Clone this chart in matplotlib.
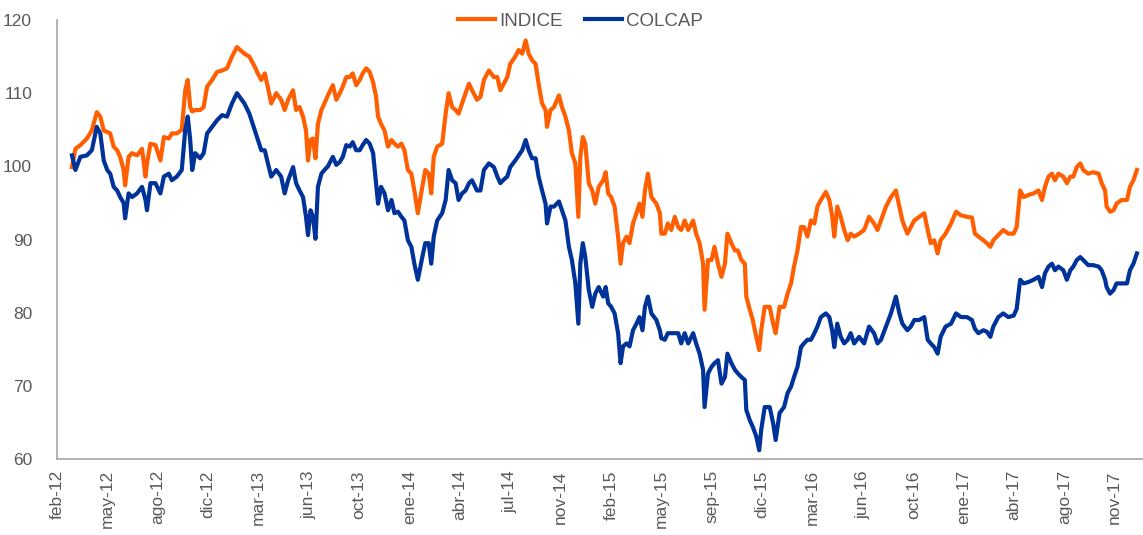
import numpy as np
import pandas as pd
import matplotlib
matplotlib.use("Agg")
import matplotlib.pyplot as plt

plt.rcParams['font.family'] = ['Liberation Sans', 'DejaVu Sans']

# dias desde 2012-02-01 de cada lectura
dias = [30, 37, 47, 60, 70, 80, 87, 94, 101, 107, 114, 121, 127, 134, 137, 144, 151, 161, 171, 178,
        181, 188, 198, 208, 215, 225, 231, 241, 251, 258, 263, 268, 272, 278, 288, 295, 302, 312, 322, 332,
        342, 352, 362,
        377, 387, 398, 404, 411, 418, 424, 431, 441, 451, 458, 465, 475, 481, 488, 495, 501, 505, 510, 515,
        520, 525, 532, 538, 545, 555, 562, 569, 575, 582, 589, 595, 602, 609, 615, 622, 629, 636, 642, 646,
        652, 659, 666, 673, 679, 686, 693, 699, 706, 713, 719, 726,
        735, 741, 748, 753, 758, 765, 775, 782, 788, 795, 802, 808, 815, 822, 829, 835, 845, 852, 859, 869,
        879, 886, 892, 899, 906, 912, 922, 929, 936, 943, 949, 956, 963, 969, 976, 983, 986, 993, 1000, 1010,
        1016, 1023, 1030, 1036, 1043, 1049, 1053, 1058, 1063, 1070, 1077, 1083, 1090,
        1099, 1104, 1109, 1115, 1122, 1129, 1134, 1139, 1146, 1152, 1159, 1166, 1172, 1178, 1183, 1189, 1196,
        1206, 1213, 1216, 1223, 1229, 1236, 1243, 1250, 1256, 1263, 1270, 1280, 1286, 1293, 1300, 1303, 1310,
        1317, 1323, 1330, 1337, 1344, 1349, 1357, 1364, 1370, 1377, 1384, 1387, 1394, 1400, 1407, 1413, 1417,
        1424, 1434, 1441, 1446, 1454,
        1463, 1470, 1477, 1483, 1490, 1497, 1503, 1510, 1517, 1524, 1530, 1537, 1547, 1554, 1560, 1564, 1570,
        1577, 1584, 1591, 1597, 1604, 1614, 1624, 1634, 1644, 1651, 1658, 1668, 1678, 1688, 1695, 1701, 1711,
        1718, 1725, 1735, 1745, 1752, 1758, 1765, 1772, 1778, 1788, 1799, 1809, 1819,
        1831, 1841, 1847, 1854, 1864, 1871, 1878, 1884, 1894, 1904, 1914, 1925, 1931, 1938, 1945, 1955, 1965,
        1975, 1982, 1988, 1995, 2002, 2008, 2015, 2025, 2032, 2039, 2045, 2052, 2059, 2065, 2075, 2085, 2096,
        2102, 2109, 2112, 2119, 2126, 2132, 2142, 2153, 2159, 2166, 2173]

indice = [99.9, 102.4, 102.9, 103.8, 104.9, 107.4, 106.8, 104.9, 104.7, 104.5, 102.7, 102.2, 101.3, 99.5,
          97.4, 101.3, 101.8, 101.5, 102.4, 98.6, 100.4, 103.1, 102.9, 100.8, 104.0, 103.8, 104.5, 104.5,
          105.0, 110.4, 111.8, 108.1, 107.5, 107.7, 107.7, 108.1, 110.9, 111.8, 112.9, 113.1, 113.4, 115.0,
          116.3,
          115.4, 115.0, 113.6, 112.7, 111.8, 112.7, 110.9, 108.6, 110.0, 109.1, 107.7, 109.1, 110.4, 107.7,
          108.1, 106.8, 104.9, 100.8, 103.6, 103.8, 101.1, 105.8, 107.7, 108.6, 109.7, 111.1, 109.1, 110.0,
          110.9, 112.2, 112.2, 112.7, 111.1, 111.8, 112.7, 113.4, 112.9, 111.5, 109.5, 106.8, 105.8, 104.9,
          102.7, 103.6, 103.1, 102.7, 103.1, 102.2, 99.5, 99.0, 96.7, 93.6,
          97.2, 99.5, 99.0, 96.3, 101.3, 102.7, 103.1, 107.2, 110.0, 108.1, 107.7, 107.2, 108.6, 110.0,
          111.3, 110.4, 109.1, 109.5, 111.8, 113.1, 112.2, 112.2, 110.4, 111.3, 112.2, 114.0, 115.0, 115.9,
          115.4, 117.2, 115.4, 114.5, 114.0, 111.3, 108.6, 107.7, 105.4, 107.7, 108.1, 109.7, 108.1, 106.8,
          104.9, 101.8, 100.4, 93.1, 101.3, 104.0, 103.1, 97.7, 96.7, 94.9, 97.2,
          98.1, 99.2, 96.3, 95.8, 94.5, 90.4, 86.7, 89.5, 90.4, 89.5, 92.2, 93.6, 94.9, 93.1, 96.7, 99.0,
          95.8, 94.9, 93.6, 90.8, 90.8, 92.2, 91.3, 93.1, 91.7, 91.3, 92.6, 91.3, 92.6, 90.8, 89.5, 86.7,
          80.4, 87.2, 87.2, 89.0, 86.7, 84.9, 86.7, 90.8, 89.5, 88.5, 88.5, 87.2, 86.7, 82.2, 80.4, 79.0,
          76.7, 74.9, 77.6, 80.8, 80.8, 78.5, 77.2, 80.8,
          80.8, 82.6, 84.0, 86.3, 88.5, 91.7, 91.7, 90.4, 92.6, 92.2, 94.5, 95.4, 96.5, 95.4, 93.1, 90.4,
          94.5, 93.1, 91.3, 89.9, 90.8, 90.4, 90.8, 91.3, 93.1, 92.2, 91.3, 92.6, 94.5, 95.8, 96.7, 94.5,
          92.6, 90.8, 91.7, 92.6, 93.1, 93.6, 91.3, 89.5, 89.9, 88.1, 89.9, 90.8, 92.2, 93.8, 93.3,
          93.1, 93.0, 90.8, 90.4, 89.9, 89.5, 89.0, 89.9, 90.6, 91.3, 90.8, 90.8, 91.7, 96.7, 95.8, 96.1,
          96.3, 96.7, 95.4, 97.2, 98.6, 99.0, 98.1, 99.0, 98.6, 97.7, 98.6, 98.6, 99.9, 100.4, 99.5, 99.0,
          99.2, 99.0, 97.7, 96.7, 94.5, 93.8, 94.0, 94.9, 95.4, 95.4, 97.2, 98.1, 99.5]

colcap = [101.5, 99.5, 101.3, 101.5, 102.2, 105.4, 104.5, 100.8, 99.5, 99.0, 97.2, 96.7, 95.8, 95.0,
          92.9, 96.3, 95.8, 96.3, 97.2, 95.4, 94.0, 97.7, 97.7, 96.3, 98.6, 99.0, 98.1, 98.6, 99.5, 105.0,
          106.8, 103.6, 99.5, 101.8, 101.1, 101.8, 104.5, 105.4, 106.3, 107.0, 106.8, 108.6, 110.0,
          108.6, 107.2, 104.9, 103.6, 102.2, 102.2, 100.5, 98.6, 99.5, 98.6, 96.3, 98.1, 99.9, 97.7, 96.7,
          95.8, 93.1, 90.6, 94.0, 93.1, 90.1, 97.2, 99.0, 99.5, 100.0, 101.3, 100.2, 100.6, 101.3, 102.9,
          102.7, 103.3, 102.2, 102.2, 102.9, 103.6, 103.1, 101.8, 97.7, 94.9, 97.2, 96.3, 94.0, 95.4, 93.6,
          93.8, 93.1, 92.6, 89.9, 89.0, 86.7, 84.5,
          87.6, 89.5, 89.5, 86.7, 90.4, 92.6, 93.6, 95.4, 99.5, 98.1, 97.7, 95.4, 96.3, 96.7, 97.7, 98.1,
          96.7, 96.7, 99.5, 100.4, 99.9, 98.6, 97.7, 98.2, 98.6, 99.9, 100.8, 101.5, 102.2, 103.6, 102.2,
          101.1, 101.1, 98.6, 96.7, 94.9, 92.2, 94.5, 94.5, 95.2, 94.0, 92.6, 89.0, 87.2, 84.0, 78.5, 86.7,
          89.5, 87.6, 83.1, 80.8, 82.6, 83.5,
          82.2, 83.5, 81.3, 80.8, 79.9, 77.2, 73.1, 75.4, 75.8, 75.4, 77.6, 78.5, 79.4, 77.6, 80.8, 82.2,
          79.9, 79.0, 77.6, 76.5, 76.3, 77.2, 77.2, 77.2, 77.2, 75.8, 77.2, 75.8, 77.2, 75.8, 74.4, 72.2,
          67.1, 71.7, 72.6, 73.1, 73.5, 70.3, 71.2, 74.4, 73.1, 72.2, 71.7, 71.2, 70.8, 66.7, 65.3, 64.4,
          63.1, 61.2, 64.0, 67.1, 67.1, 64.9, 62.6, 66.3,
          67.1, 69.0, 69.9, 71.2, 72.6, 75.3, 75.8, 76.3, 76.3, 77.2, 78.1, 79.4, 79.9, 79.4, 77.5, 75.3,
          78.5, 76.7, 75.8, 76.3, 77.2, 75.8, 76.7, 75.8, 78.1, 77.2, 75.8, 76.3, 78.1, 79.9, 82.2, 79.9,
          78.5, 77.6, 78.1, 79.0, 79.0, 79.4, 76.3, 75.8, 75.3, 74.4, 76.7, 78.1, 78.5, 79.9, 79.4,
          79.4, 79.0, 77.8, 77.2, 77.6, 77.4, 76.7, 78.1, 79.4, 79.9, 79.4, 79.6, 80.5, 84.5, 84.0, 84.2,
          84.5, 84.9, 83.5, 85.4, 86.3, 86.7, 85.8, 86.3, 85.8, 84.5, 85.8, 86.3, 87.2, 87.6, 87.2, 86.5,
          86.5, 86.3, 85.8, 84.5, 83.5, 82.6, 83.1, 84.0, 84.0, 84.0, 85.8, 86.7, 88.1]

etiquetas = ['feb-12', 'may-12', 'ago-12', 'dic-12', 'mar-13', 'jun-13', 'oct-13', 'ene-14',
             'abr-14', 'jul-14', 'nov-14', 'feb-15', 'may-15', 'sep-15', 'dic-15', 'mar-16',
             'jun-16', 'oct-16', 'ene-17', 'abr-17', 'ago-17', 'nov-17']

inicio = pd.Timestamp('2012-02-01')
fechas = inicio + pd.to_timedelta(dias, unit='D')
# el eje marca una etiqueta cada ~101 dias
pos_ticks = inicio + pd.to_timedelta(np.arange(len(etiquetas)) * 101.35, unit='D')

fig = plt.figure(figsize=(11.43, 5.35), dpi=100)
ax = fig.add_axes([0.0499, 0.142, 0.95, 0.8206])

ax.plot(fechas, indice, color='#FF5F00', lw=3.0, label='INDICE')
ax.plot(fechas, colcap, color='#003399', lw=3.0, label='COLCAP')

ax.set_ylim(60, 120)
ax.set_yticks(range(60, 121, 10))
ax.set_xlim(inicio, inicio + pd.Timedelta(days=2185))
ax.set_xticks(pos_ticks)
ax.set_xticklabels(etiquetas, rotation=90)

for lado in ['top', 'right']:
    ax.spines[lado].set_visible(False)
for lado in ['left', 'bottom']:
    ax.spines[lado].set_color('#A6A6A6')
    ax.spines[lado].set_linewidth(1.2)
ax.tick_params(axis='x', length=0, labelsize=12.5, colors='#595959', pad=8)
ax.tick_params(axis='y', length=0, labelsize=12.5, colors='#595959', pad=18)

ax.legend(loc='upper center', bbox_to_anchor=(0.482, 1.055), ncol=2, frameon=False,
          fontsize=13.5, handlelength=2.0, handletextpad=0.2, columnspacing=1.2,
          labelcolor='#595959')

fig.savefig('out.png', dpi=100)
